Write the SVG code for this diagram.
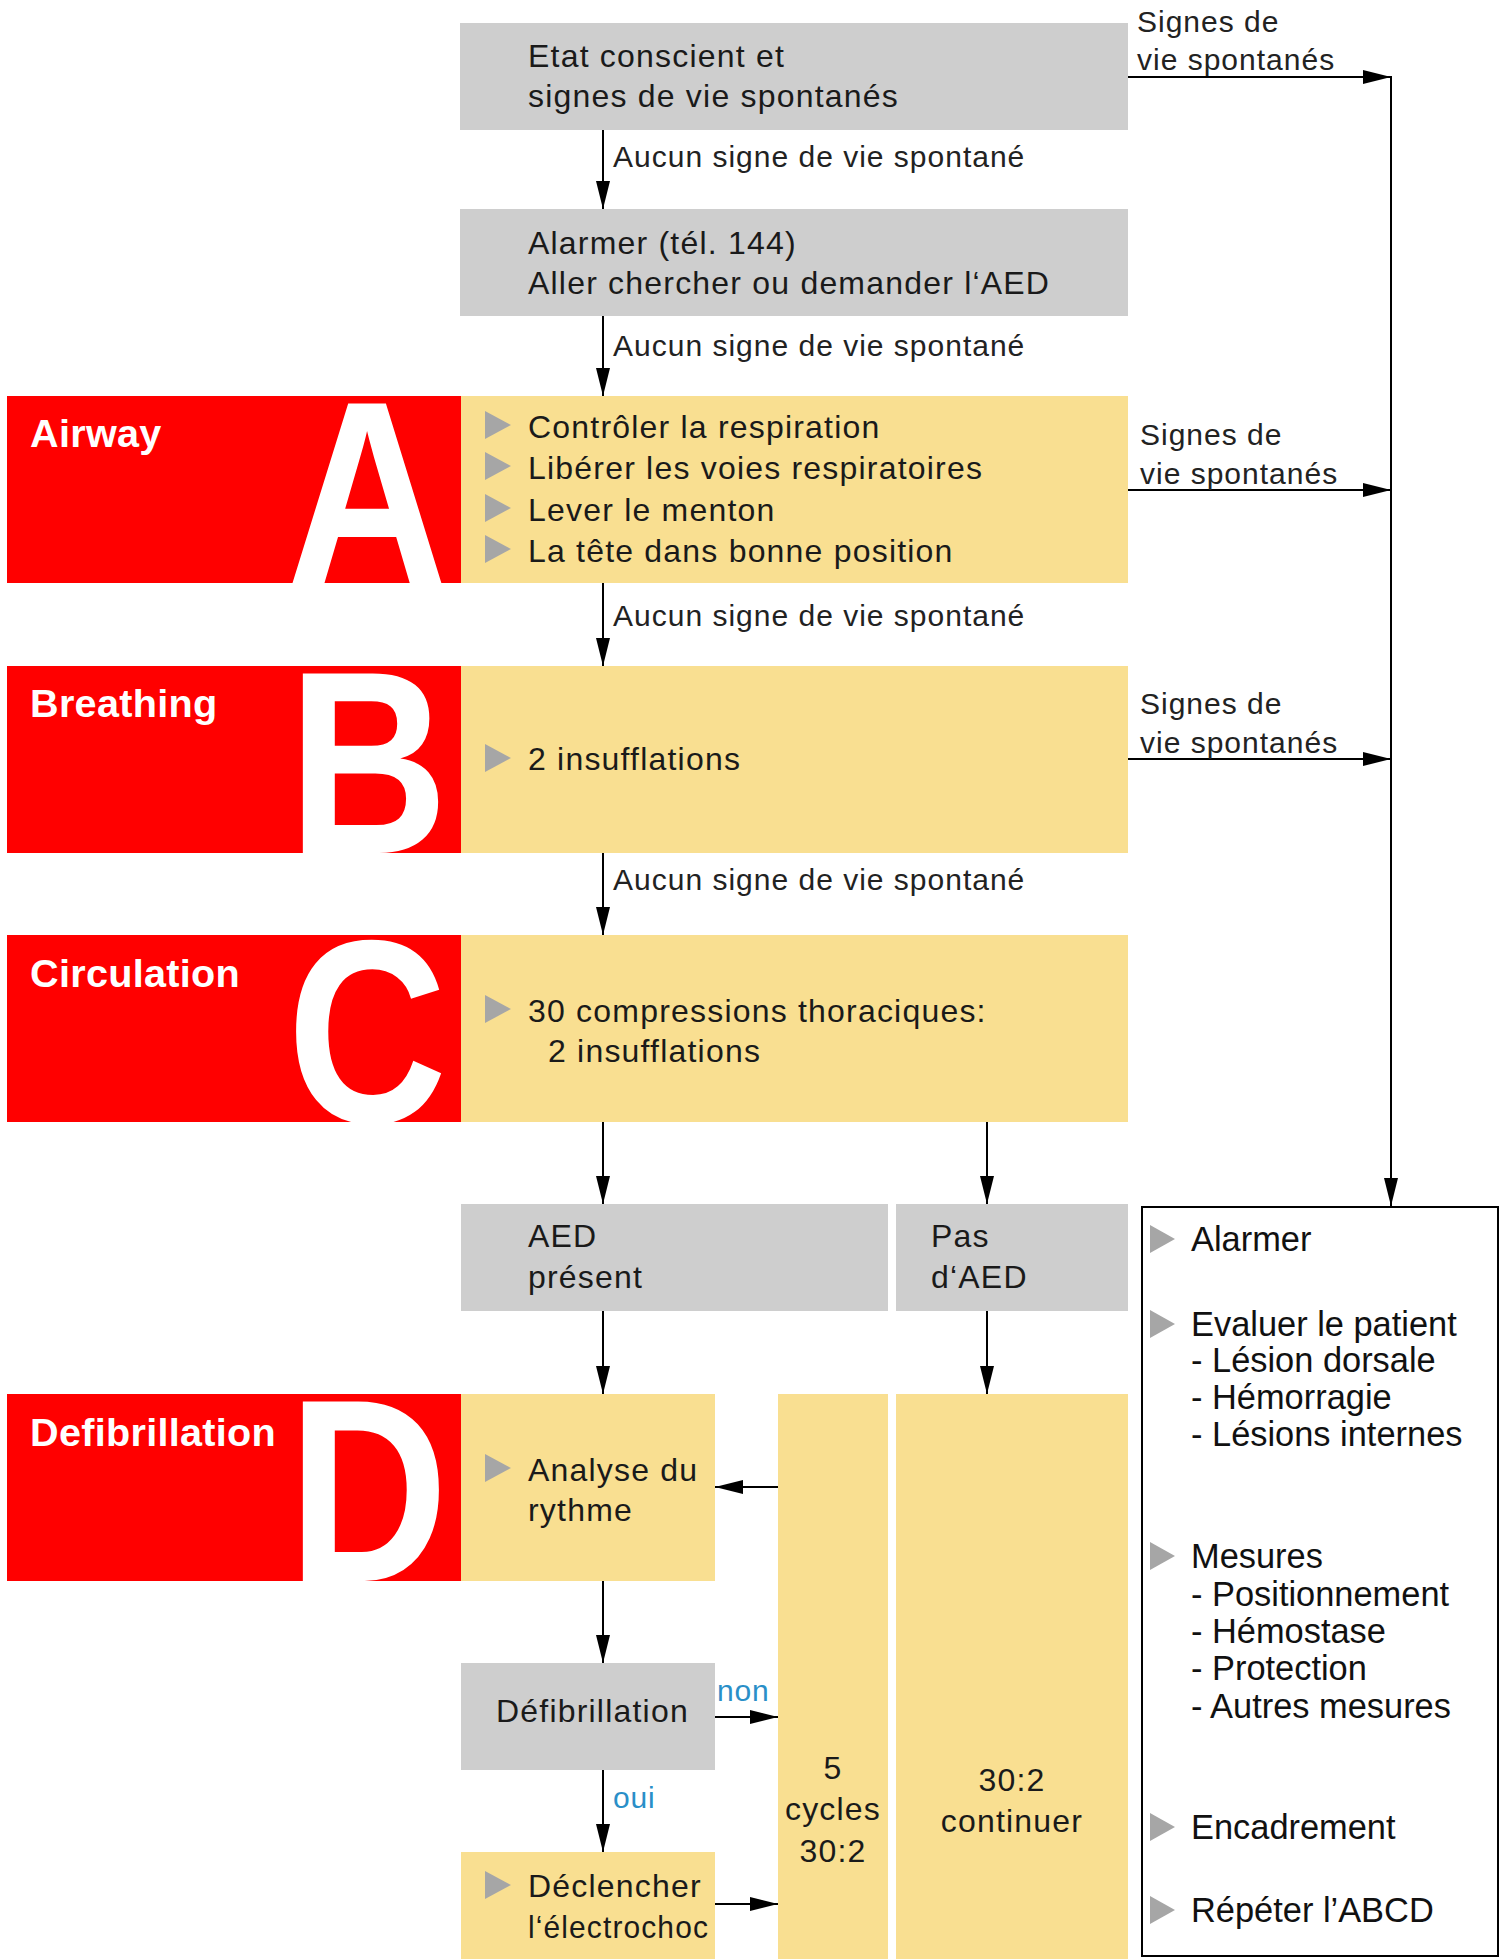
<svg xmlns="http://www.w3.org/2000/svg" width="1501" height="1959" viewBox="0 0 1501 1959">
<style>
.gray{fill:#CECECE}
.yel{fill:#F9DF91}
.red{fill:#FF0000}
.t{font-family:"Liberation Sans",Arial,sans-serif;font-size:32px;letter-spacing:1.2px;fill:#1a1a1a}
.lbl{font-family:"Liberation Sans",Arial,sans-serif;font-size:30px;letter-spacing:1px;fill:#222}
.blue{font-family:"Liberation Sans",Arial,sans-serif;font-size:30px;letter-spacing:0.8px;fill:#2A8FC8}
.hd{font-family:"Liberation Sans",Arial,sans-serif;font-size:39.6px;font-weight:bold;letter-spacing:0.3px;fill:#fff}
.big{font-family:"Liberation Sans",Arial,sans-serif;font-size:261px;font-weight:bold;fill:#fff}
.rt{font-family:"Liberation Sans",Arial,sans-serif;font-size:34.4px;fill:#111}
.bul{fill:#A6A6A6}
.c{stroke:#000;stroke-width:2;fill:none;marker-end:url(#ah)}
</style>
<defs>
<marker id="ah" markerUnits="userSpaceOnUse" markerWidth="28" markerHeight="14" refX="28" refY="7" orient="auto">
<path d="M0,0 L28,7 L0,14 z" fill="#000"/>
</marker>
<clipPath id="clipA"><rect x="7" y="396" width="454" height="187"/></clipPath>
<clipPath id="clipB"><rect x="7" y="666" width="454" height="187"/></clipPath>
<clipPath id="clipC"><rect x="7" y="935" width="454" height="187"/></clipPath>
<clipPath id="clipD"><rect x="7" y="1394" width="454" height="187"/></clipPath>
</defs>
<rect width="1501" height="1959" fill="#fff"/>

<g id="node-etat">
<rect class="gray" x="460" y="23" width="668" height="107"/>
<text class="t" x="528" y="67">Etat conscient et</text>
<text class="t" x="528" y="107">signes de vie spontanés</text>
</g>

<g id="node-alarmer">
<rect class="gray" x="460" y="209" width="668" height="107"/>
<text class="t" x="528" y="254">Alarmer (tél. 144)</text>
<text class="t" x="528" y="294">Aller chercher ou demander l‘AED</text>
</g>

<g id="node-A">
<rect class="red" x="7" y="396" width="454" height="187"/>
<g clip-path="url(#clipA)"><text class="big" transform="translate(287,583) scale(0.85,1)">A</text></g>
<text class="hd" x="30" y="447">Airway</text>
<rect class="yel" x="461" y="396" width="667" height="187"/>
<polygon class="bul" points="485,411 485,439 511,425"/>
<text class="t" x="528" y="438">Contrôler la respiration</text>
<polygon class="bul" points="485,452 485,480 511,466"/>
<text class="t" x="528" y="479">Libérer les voies respiratoires</text>
<polygon class="bul" points="485,494 485,522 511,508"/>
<text class="t" x="528" y="521">Lever le menton</text>
<polygon class="bul" points="485,535 485,563 511,549"/>
<text class="t" x="528" y="562">La tête dans bonne position</text>
</g>

<g id="node-B">
<rect class="red" x="7" y="666" width="454" height="187"/>
<g clip-path="url(#clipB)"><text class="big" transform="translate(288,853) scale(0.85,1)">B</text></g>
<text class="hd" x="30" y="717">Breathing</text>
<rect class="yel" x="461" y="666" width="667" height="187"/>
<polygon class="bul" points="485,744 485,772 511,758"/>
<text class="t" x="528" y="770">2 insufflations</text>
</g>

<g id="node-C">
<rect class="red" x="7" y="935" width="454" height="187"/>
<g clip-path="url(#clipC)"><text class="big" transform="translate(287,1122) scale(0.85,1)">C</text></g>
<text class="hd" x="30" y="987">Circulation</text>
<rect class="yel" x="461" y="935" width="667" height="187"/>
<polygon class="bul" points="485,995 485,1023 511,1009"/>
<text class="t" x="528" y="1022">30 compressions thoraciques:</text>
<text class="t" x="548" y="1062">2 insufflations</text>
</g>

<g id="node-aed-present">
<rect class="gray" x="461" y="1204" width="427" height="107"/>
<text class="t" x="528" y="1247">AED</text>
<text class="t" x="528" y="1288">présent</text>
</g>

<g id="node-pas-aed">
<rect class="gray" x="896" y="1204" width="232" height="107"/>
<text class="t" x="931" y="1247">Pas</text>
<text class="t" x="931" y="1288">d‘AED</text>
</g>

<g id="node-D">
<rect class="red" x="7" y="1394" width="454" height="187"/>
<g clip-path="url(#clipD)"><text class="big" transform="translate(288,1581) scale(0.85,1)">D</text></g>
<text class="hd" x="30" y="1446">Defibrillation</text>
</g>

<g id="node-analyse">
<rect class="yel" x="461" y="1394" width="254" height="187"/>
<polygon class="bul" points="485,1454 485,1482 511,1468"/>
<text class="t" x="528" y="1481">Analyse du</text>
<text class="t" x="528" y="1521">rythme</text>
</g>

<g id="node-defib">
<rect class="gray" x="461" y="1663" width="254" height="107"/>
<text class="t" x="496" y="1722">Défibrillation</text>
</g>

<g id="node-declencher">
<rect class="yel" x="461" y="1852" width="254" height="107"/>
<polygon class="bul" points="485,1871 485,1899 511,1885"/>
<text class="t" x="528" y="1897">Déclencher</text>
<text class="t" x="528" y="1938" textLength="181" lengthAdjust="spacingAndGlyphs">l‘électrochoc</text>
</g>

<g id="node-5cycles">
<rect class="yel" x="778" y="1394" width="110" height="565"/>
<text class="t" x="833" y="1779" text-anchor="middle">5</text>
<text class="t" x="833" y="1820" text-anchor="middle">cycles</text>
<text class="t" x="833" y="1862" text-anchor="middle">30:2</text>
</g>

<g id="node-continuer">
<rect class="yel" x="896" y="1394" width="232" height="565"/>
<text class="t" x="1012" y="1791" text-anchor="middle">30:2</text>
<text class="t" x="1012" y="1832" text-anchor="middle">continuer</text>
</g>

<g id="node-mesures">
<rect x="1142" y="1207" width="356" height="749" fill="#fff" stroke="#000" stroke-width="2"/>
<polygon class="bul" points="1150,1225 1150,1253 1175,1239"/>
<text class="rt" x="1191" y="1251">Alarmer</text>
<polygon class="bul" points="1150,1310 1150,1338 1175,1324"/>
<text class="rt" x="1191" y="1336">Evaluer le patient</text>
<text class="rt" x="1191" y="1372">- Lésion dorsale</text>
<text class="rt" x="1191" y="1409">- Hémorragie</text>
<text class="rt" x="1191" y="1446">- Lésions internes</text>
<polygon class="bul" points="1150,1542 1150,1570 1175,1556"/>
<text class="rt" x="1191" y="1568">Mesures</text>
<text class="rt" x="1191" y="1606">- Positionnement</text>
<text class="rt" x="1191" y="1643">- Hémostase</text>
<text class="rt" x="1191" y="1680">- Protection</text>
<text class="rt" x="1191" y="1718">- Autres mesures</text>
<polygon class="bul" points="1150,1813 1150,1841 1175,1827"/>
<text class="rt" x="1191" y="1839">Encadrement</text>
<polygon class="bul" points="1150,1896 1150,1924 1175,1910"/>
<text class="rt" x="1191" y="1922">Répéter l’ABCD</text>
</g>

<g id="connectors">
<line class="c" x1="603" y1="130" x2="603" y2="209"/>
<line class="c" x1="603" y1="316" x2="603" y2="396"/>
<line class="c" x1="603" y1="583" x2="603" y2="666"/>
<line class="c" x1="603" y1="853" x2="603" y2="935"/>
<line class="c" x1="603" y1="1122" x2="603" y2="1204"/>
<line class="c" x1="987" y1="1122" x2="987" y2="1204"/>
<line class="c" x1="603" y1="1311" x2="603" y2="1394"/>
<line class="c" x1="987" y1="1311" x2="987" y2="1394"/>
<line class="c" x1="778" y1="1487" x2="715" y2="1487"/>
<line class="c" x1="603" y1="1581" x2="603" y2="1663"/>
<line class="c" x1="715" y1="1717" x2="778" y2="1717"/>
<line class="c" x1="603" y1="1770" x2="603" y2="1852"/>
<line class="c" x1="715" y1="1904" x2="778" y2="1904"/>
<line class="c" x1="1128" y1="77" x2="1391" y2="77"/>
<line class="c" x1="1128" y1="490" x2="1391" y2="490"/>
<line class="c" x1="1128" y1="759" x2="1391" y2="759"/>
<line class="c" x1="1391" y1="76" x2="1391" y2="1206"/>
<text class="lbl" x="613" y="167">Aucun signe de vie spontané</text>
<text class="lbl" x="613" y="356">Aucun signe de vie spontané</text>
<text class="lbl" x="613" y="626">Aucun signe de vie spontané</text>
<text class="lbl" x="613" y="890">Aucun signe de vie spontané</text>
<text class="lbl" x="1137" y="32">Signes de</text>
<text class="lbl" x="1137" y="70">vie spontanés</text>
<text class="lbl" x="1140" y="445">Signes de</text>
<text class="lbl" x="1140" y="484">vie spontanés</text>
<text class="lbl" x="1140" y="714">Signes de</text>
<text class="lbl" x="1140" y="753">vie spontanés</text>
<text class="blue" x="717" y="1701">non</text>
<text class="blue" x="613" y="1808">oui</text>
</g>
</svg>
